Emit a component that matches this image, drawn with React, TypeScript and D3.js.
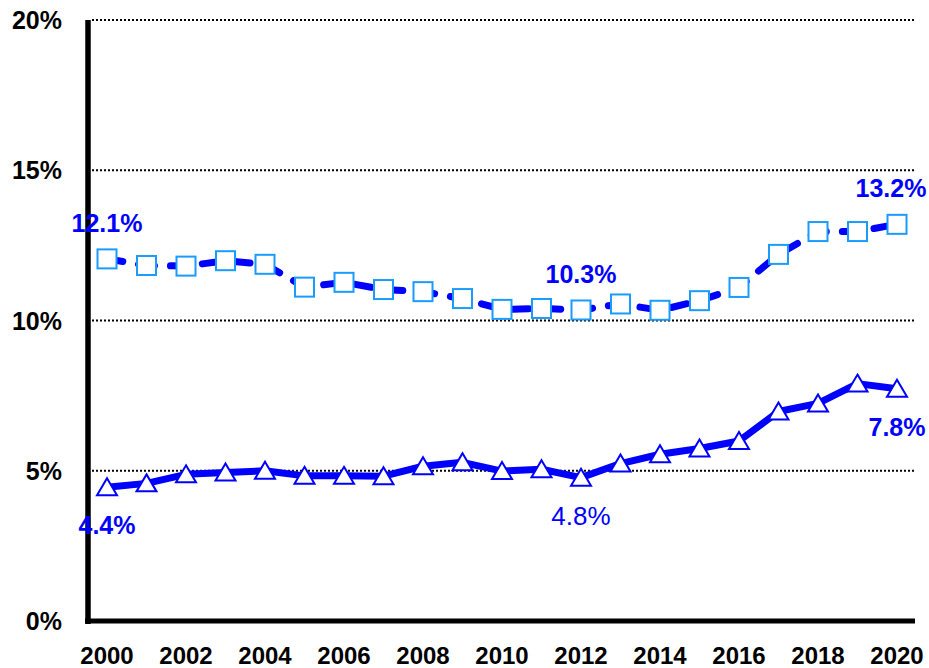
import React, { useEffect, useRef } from 'react'
import * as d3 from 'd3'

const years = [2000, 2001, 2002, 2003, 2004, 2005, 2006, 2007, 2008, 2009, 2010, 2011, 2012, 2013, 2014, 2015, 2016, 2017, 2018, 2019, 2020]
const upperSeries = [12.05, 11.83, 11.81, 11.99, 11.87, 11.11, 11.27, 11.03, 10.96, 10.73, 10.37, 10.4, 10.35, 10.55, 10.34, 10.66, 11.1, 12.2, 12.96, 12.96, 13.2]
const lowerSeries = [4.45, 4.58, 4.88, 4.94, 5.0, 4.83, 4.83, 4.82, 5.15, 5.28, 4.99, 5.05, 4.77, 5.24, 5.55, 5.74, 5.99, 6.97, 7.24, 7.9, 7.73]
const yTicks = [0, 5, 10, 15, 20]
const xTicks = [2000, 2002, 2004, 2006, 2008, 2010, 2012, 2014, 2016, 2018, 2020]
const upperLabelYears = [2000, 2012, 2020]
const upperLabels = ['12.1%', '10.3%', '13.2%']
const lowerLabelYears = [2000, 2012, 2020]
const lowerLabels = ['4.4%', '4.8%', '7.8%']
const lowerLabelBold = [true, false, true]

const W = 929
const H = 668
const FONT = '"Liberation Sans", Arial, sans-serif'
const BLUE = '#0000ff'

export default function App() {
  const ref = useRef<SVGSVGElement>(null)

  useEffect(() => {
    const svg = d3.select(ref.current)
    svg.selectAll('*').remove()

    const x = d3.scaleLinear().domain([2000, 2020]).range([107, 897])
    const y = d3.scaleLinear().domain([0, 20]).range([621, 20])

    // dotted gridlines
    svg
      .append('g')
      .selectAll('line')
      .data(yTicks.filter(d => d > 0))
      .join('line')
      .attr('x1', 92)
      .attr('x2', 914)
      .attr('y1', d => y(d))
      .attr('y2', d => y(d))
      .attr('stroke', '#000')
      .attr('stroke-width', 2)
      .attr('stroke-dasharray', '2 2')

    // y tick labels
    svg
      .append('g')
      .selectAll('text')
      .data(yTicks)
      .join('text')
      .attr('x', 62)
      .attr('y', d => y(d) + 9)
      .attr('text-anchor', 'end')
      .attr('font-family', FONT)
      .attr('font-weight', 'bold')
      .attr('font-size', 25)
      .text(d => d + '%')

    // x tick labels
    svg
      .append('g')
      .selectAll('text')
      .data(xTicks)
      .join('text')
      .attr('x', d => x(d))
      .attr('y', 664)
      .attr('text-anchor', 'middle')
      .attr('font-family', FONT)
      .attr('font-weight', 'bold')
      .attr('font-size', 24)
      .text(d => String(d))

    // axes
    svg.append('line').attr('x1', 88).attr('x2', 88).attr('y1', 20).attr('y2', 624)
      .attr('stroke', '#000').attr('stroke-width', 5.5)
    svg.append('line').attr('x1', 85).attr('x2', 915).attr('y1', 621).attr('y2', 621)
      .attr('stroke', '#000').attr('stroke-width', 5)

    const line = d3
      .line<number>()
      .x((d, i) => x(years[i]))
      .y(d => y(d))

    // lower solid line
    svg
      .append('path')
      .datum(lowerSeries)
      .attr('d', line)
      .attr('fill', 'none')
      .attr('stroke', BLUE)
      .attr('stroke-width', 7)
      .attr('stroke-linejoin', 'round')

    // upper dashed line
    svg
      .append('path')
      .datum(upperSeries)
      .attr('d', line)
      .attr('fill', 'none')
      .attr('stroke', BLUE)
      .attr('stroke-width', 7)
      .attr('stroke-linecap', 'round')
      .attr('stroke-dasharray', '16 16')

    // square markers
    svg
      .append('g')
      .selectAll('rect')
      .data(upperSeries)
      .join('rect')
      .attr('x', (d, i) => x(years[i]) - 9.5)
      .attr('y', d => y(d) - 9.5)
      .attr('width', 19)
      .attr('height', 19)
      .attr('fill', '#fff')
      .attr('stroke', '#1a9cff')
      .attr('stroke-width', 2)

    // triangle markers
    const tri = (cx: number, cy: number) =>
      `M${cx},${cy - 9}L${cx + 10},${cy + 8}L${cx - 10},${cy + 8}Z`
    svg
      .append('g')
      .selectAll('path')
      .data(lowerSeries)
      .join('path')
      .attr('d', (d, i) => tri(x(years[i]), y(d)))
      .attr('fill', '#fff')
      .attr('stroke', BLUE)
      .attr('stroke-width', 2)

    // data labels (the last one is kept inside the right edge)
    svg
      .append('g')
      .selectAll('text')
      .data(upperLabels)
      .join('text')
      .attr('x', (d, i) => Math.min(x(upperLabelYears[i]), 891))
      .attr('y', (d, i) => y(upperSeries[years.indexOf(upperLabelYears[i])]) - 27)
      .attr('text-anchor', 'middle')
      .attr('font-family', FONT)
      .attr('font-weight', 'bold')
      .attr('font-size', 25)
      .attr('fill', BLUE)
      .text(d => d)

    svg
      .append('g')
      .selectAll('text')
      .data(lowerLabels)
      .join('text')
      .attr('x', (d, i) => x(lowerLabelYears[i]))
      .attr('y', (d, i) => y(lowerSeries[years.indexOf(lowerLabelYears[i])]) + 47)
      .attr('text-anchor', 'middle')
      .attr('font-family', FONT)
      .attr('font-weight', (d, i) => (lowerLabelBold[i] ? 'bold' : 'normal'))
      .attr('font-size', (d, i) => (lowerLabelBold[i] ? 25 : 26))
      .attr('fill', BLUE)
      .text(d => d)
  }, [])

  return (
    <div style={{ position: 'fixed', left: 0, top: 0, width: W, height: H, background: '#fff' }}>
      <svg ref={ref} width={W} height={H} style={{ display: 'block' }} />
    </div>
  )
}
